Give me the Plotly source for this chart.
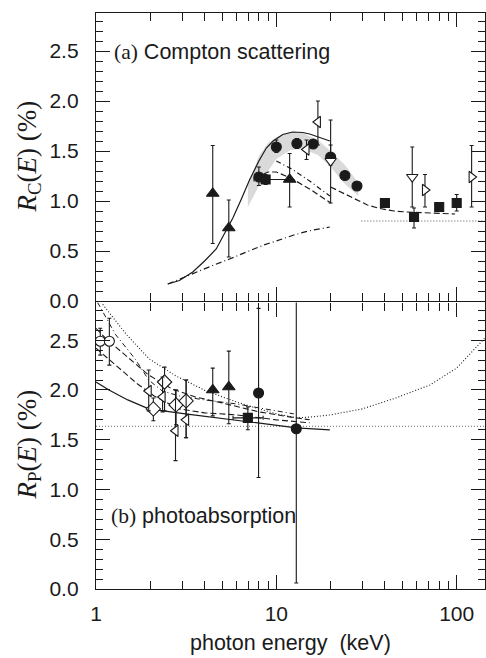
import plotly.graph_objects as go
from plotly.subplots import make_subplots

# ---------------- top panel (a) Compton scattering ----------------
band_E = [6.95, 7.5, 8, 9, 10, 12, 14, 17, 20, 24, 28.5]
band_hi = [1.15, 1.32, 1.45, 1.58, 1.64, 1.69, 1.68, 1.61, 1.50, 1.36, 1.18]
band_lo = [0.94, 1.05, 1.15, 1.30, 1.42, 1.51, 1.52, 1.46, 1.34, 1.17, 1.05]

c_solid_E = [2.5, 2.9, 3.44, 4.0, 4.64, 5.2, 5.74, 6.4, 7.1, 8.0, 8.8, 9.6, 10.85, 12.3, 14, 15.3, 17.5, 19.8]
c_solid_R = [0.17, 0.205, 0.29, 0.40, 0.52, 0.69, 0.83, 1.02, 1.21, 1.40, 1.53, 1.60, 1.665, 1.69, 1.685, 1.67, 1.63, 1.60]
c_dash_E = [8.5, 9.0, 10, 11, 12.3, 14, 15.3, 17.5, 20, None, 20, 24, 27.8, 32, 37.5, 45, 52.7, 74, 98]
c_dash_R = [1.27, 1.29, 1.29, 1.26, 1.22, 1.16, 1.12, 1.05, 0.98, None, 1.14, 1.07, 1.015, 0.96, 0.925, 0.90, 0.89, 0.875, 0.87]
c_dd1_E = [10, 12.3, 15.3, 17.5, 19.8]
c_dd1_R = [1.40, 1.315, 1.20, 1.12, 1.05]
c_dd2_E = [2.5, 3.44, 4.5, 5.5, 7, 8.5, 10, 12.5, 15, 19.8]
c_dd2_R = [0.17, 0.275, 0.36, 0.42, 0.50, 0.56, 0.60, 0.66, 0.70, 0.74]
c_dot_E = [29.6, 143]
c_dot_R = [0.80, 0.80]

ct_E = [4.44, 5.45, 11.85]
ct_R = [1.075, 0.73, 1.215]
ct_up = [0.48, 0.28, 0.26]
ct_dn = [0.50, 0.29, 0.275]

cc_E = [8.0, 10.0, 13.0, 16.0, 20.0, 24.0, 28.0]
cc_R = [1.24, 1.54, 1.575, 1.57, 1.44, 1.255, 1.15]
cc_up = [0.10, 0.07, 0.05, 0.04, 0.12, 0.0, 0.0]
cc_dn = [0.085, 0.055, 0.05, 0.04, 0.08, 0.0, 0.0]

cs_E = [8.72, 40, 58, 80, 100]
cs_R = [1.215, 0.98, 0.84, 0.94, 0.98]
cs_up = [0.05, 0.0, 0.09, 0.0, 0.085]
cs_dn = [0.05, 0.0, 0.11, 0.0, 0.08]
cs_xp = [2.9, 0, 0, 0, 0]
cs_xm = [1.2, 0, 0, 0, 0]

cl_E = [17.0, 14.7]
cl_R = [1.79, 1.515]
cl_up = [0.21, 0.095]
cl_dn = [0.23, 0.10]

cd_E = [20, 56.7]
cd_R = [1.40, 1.24]
cd_up = [0.41, 0.30]
cd_dn = [0.42, 0.30]

cr_E = [66.7, 121]
cr_R = [1.11, 1.24]
cr_up = [0.155, 0.315]
cr_dn = [0.17, 0.30]

# ---------------- bottom panel (b) photoabsorption ----------------
p_solid_E = [1.0, 1.18, 1.5, 1.96, 3.13, 5.2, 9.2, 12.9, 19.8]
p_solid_R = [2.08, 2.0, 1.90, 1.81, 1.76, 1.71, 1.65, 1.62, 1.60]
p_dot_E = [1.09, 1.47, 1.98, 2.78, 4.08, 6, 8, 10, 13, 16, 20, 30, 46, 71, 100, 129, 143]
p_dot_R = [2.86, 2.56, 2.31, 2.14, 1.99, 1.88, 1.81, 1.76, 1.72, 1.73, 1.75, 1.81, 1.92, 2.05, 2.22, 2.44, 2.52]
p_dd_E = [1.02, 1.28, 1.65, 1.96, 2.33, 2.9, 4, 6, 8, 10, 12.5]
p_dd_R = [2.88, 2.56, 2.31, 2.10, 1.99, 1.94, 1.90, 1.86, 1.82, 1.79, 1.76]
p_dashB_E = [1.0, 1.13, 1.52, 1.96, 2.64, 3.56, 5, 8, 11.8, 15.3]
p_dashB_R = [2.62, 2.52, 2.32, 2.15, 2.01, 1.93, 1.87, 1.78, 1.73, 1.70]
p_dashC_E = [1.0, 1.3, 1.7, 2.1, 2.9, 4, 6, 10, 15.3]
p_dashC_R = [2.42, 2.24, 2.06, 1.94, 1.81, 1.77, 1.75, 1.70, 1.67]
p_hdot_E = [1.0, 143]
p_hdot_R = [1.635, 1.635]

po_E = [1.056, 1.186]
po_R = [2.49, 2.49]
po_up = [0.13, 0.23]
po_dn = [0.14, 0.24]

pdm_E = [2.08, 2.40, 2.78, 3.16]
pdm_R = [1.81, 2.08, 1.85, 1.89]
pdm_up = [0.11, 0.15, 0.15, 0.21]
pdm_dn = [0.12, 0.29, 0.20, 0.37]

pl_E = [1.96, 2.34, 2.76, 3.16]
pl_R = [1.99, 1.93, 1.59, 1.70]
pl_up = [0.21, 0.20, 0.41, 0.40]
pl_dn = [0.20, 0.15, 0.30, 0.18]

pt_E = [4.44, 5.45]
pt_R = [2.0, 2.03]
pt_up = [0.22, 0.36]
pt_dn = [0.26, 0.37]

pc_E = [7.97, 12.9]
pc_R = [1.97, 1.61]
pc_up = [0.85, 1.4]
pc_dn = [0.85, 1.55]

ps_E = [6.95]
ps_R = [1.72]
ps_up = [0.11]
ps_dn = [0.12]
ps_xp = [1.5]
ps_xm = [1.2]

x_ticks = [1, 10, 100]
x_minor = [2, 3, 4, 5, 6, 7, 8, 9, 20, 30, 40, 50, 60, 70, 80, 90]
y_ticks = [0.0, 0.5, 1.0, 1.5, 2.0, 2.5]

INK = "#1a1a1a"
fig = make_subplots(rows=2, cols=1, shared_xaxes=True, vertical_spacing=0)


def line(E, R, dash, row, color=INK, width=1.2):
    fig.add_trace(go.Scatter(x=E, y=R, mode="lines", line=dict(color=color, width=width, dash=dash),
                             connectgaps=False, hoverinfo="skip"), row=row, col=1)


def pts(E, R, up, dn, symbol, size, fill, row, xp=None, xm=None):
    tr = go.Scatter(x=E, y=R, mode="markers",
                    marker=dict(symbol=symbol, size=size, color=fill, line=dict(color=INK, width=1.1)),
                    error_y=dict(type="data", symmetric=False, array=up, arrayminus=dn,
                                 color=INK, thickness=1.1, width=2))
    if xp is not None:
        tr.error_x = dict(type="data", symmetric=False, array=xp, arrayminus=xm,
                          color=INK, thickness=1.1, width=2)
    fig.add_trace(tr, row=row, col=1)


# band
fig.add_trace(go.Scatter(x=band_E + band_E[::-1], y=band_hi + band_lo[::-1], mode="lines",
                         fill="toself", fillcolor="#dadada", line=dict(width=0), hoverinfo="skip"),
              row=1, col=1)
line(c_solid_E, c_solid_R, "solid", 1)
line(c_dash_E, c_dash_R, "6px,3px", 1)
line(c_dd1_E, c_dd1_R, "5px,3px,1px,3px", 1)
line(c_dd2_E, c_dd2_R, "6px,3px,1px,3px", 1)
line(c_dot_E, c_dot_R, "1px,2px", 1, color="#888888", width=1.3)

pts(ct_E, ct_R, ct_up, ct_dn, "triangle-up", 11, INK, 1)
pts(cc_E, cc_R, cc_up, cc_dn, "circle", 10, INK, 1)
pts(cs_E, cs_R, cs_up, cs_dn, "square", 9, INK, 1, cs_xp, cs_xm)
pts(cl_E, cl_R, cl_up, cl_dn, "triangle-left", 10, "white", 1)
pts(cd_E, cd_R, cd_up, cd_dn, "triangle-down", 10, "white", 1)
pts(cr_E, cr_R, cr_up, cr_dn, "triangle-right", 10, "white", 1)

line(p_hdot_E, p_hdot_R, "1px,2px", 2, color="#888888", width=1.3)
line(p_solid_E, p_solid_R, "solid", 2)
line(p_dot_E, p_dot_R, "1px,2px", 2, width=1.1)
line(p_dd_E, p_dd_R, "5px,3px,1px,3px", 2, width=1.0)
line(p_dashB_E, p_dashB_R, "6px,3px", 2, width=1.1)
line(p_dashC_E, p_dashC_R, "6px,3px", 2, width=1.1)

pts(po_E, po_R, po_up, po_dn, "circle", 10, "white", 2)
pts(pdm_E, pdm_R, pdm_up, pdm_dn, "diamond", 11, "white", 2)
pts(pl_E, pl_R, pl_up, pl_dn, "triangle-left", 10, "white", 2)
pts(pt_E, pt_R, pt_up, pt_dn, "triangle-up", 11, INK, 2)
pts(pc_E, pc_R, pc_up, pc_dn, "circle", 10, INK, 2)
pts(ps_E, ps_R, ps_up, ps_dn, "square", 9, INK, 2, ps_xp, ps_xm)

LW = 1.4
TICKFONT = dict(family="Liberation Sans, Arial, sans-serif", size=21, color=INK)
xcommon = dict(type="log", range=[0, 2.157], ticks="inside", ticklen=14, tickwidth=1.2, tickcolor=INK,
               mirror="ticks", showline=True, linewidth=LW, linecolor=INK, showgrid=False, zeroline=False,
               tickmode="array", tickvals=x_ticks, ticktext=[str(v) for v in x_ticks],
               minor=dict(ticks="inside", ticklen=8, tickwidth=1.1, tickcolor=INK,
                          tickmode="array", tickvals=x_minor, showgrid=False),
               tickfont=TICKFONT)
ycommon = dict(range=[0, 2.88], ticks="inside", ticklen=14, tickwidth=1.2, tickcolor=INK,
               mirror="ticks", showline=True, linewidth=LW, linecolor=INK, showgrid=False, zeroline=False,
               tickmode="array", tickvals=y_ticks, ticktext=["%.1f" % v for v in y_ticks],
               minor=dict(ticks="inside", ticklen=7, tickwidth=1.1, tickcolor=INK, dtick=0.1, showgrid=False),
               tickfont=TICKFONT, ticklabelstandoff=12)
fig.update_xaxes(**xcommon)
fig.update_xaxes(showticklabels=False, row=1, col=1)
fig.update_xaxes(showticklabels=True, ticklabelstandoff=6, row=2, col=1)
fig.update_yaxes(**ycommon)
# make the shared middle border a single line: lower panel ends a line-width below the upper one
fig.update_layout(yaxis=dict(domain=[0.5, 1.0]), yaxis2=dict(domain=[0.0, 0.5 - LW / 576.0]))

SERIF = "Liberation Serif, Times New Roman, serif"
ann = [
    dict(text="<i>R</i><sub>C</sub>(<i>E</i>) (%)", x=-0.172, y=0.751, textangle=-90,
         font=dict(family=SERIF, size=27, color=INK)),
    dict(text="<i>R</i><sub>P</sub>(<i>E</i>) (%)", x=-0.172, y=0.251, textangle=-90,
         font=dict(family=SERIF, size=27, color=INK)),
    dict(text='<span style="font-family:Liberation Serif">(a)</span> Compton scattering',
         x=0.040, y=0.932, xanchor="left", font=dict(family="Liberation Sans, Arial", size=21.5, color=INK)),
    dict(text='<span style="font-family:Liberation Serif">(b)</span> photoabsorption',
         x=0.034, y=0.127, xanchor="left", font=dict(family="Liberation Sans, Arial", size=21.5, color=INK)),
    dict(text="photon energy \u00a0(keV)", x=0.5, y=-0.093,
         font=dict(family="Liberation Sans, Arial", size=21.5, color=INK)),
]
for a in ann:
    a.setdefault("xanchor", "center")
    fig.add_annotation(xref="paper", yref="paper", yanchor="middle", showarrow=False, **a)

fig.update_layout(width=486, height=658, margin=dict(l=96, r=1, t=13, b=69),
                  paper_bgcolor="white", plot_bgcolor="white", showlegend=False)
fig.write_html("out.html")
